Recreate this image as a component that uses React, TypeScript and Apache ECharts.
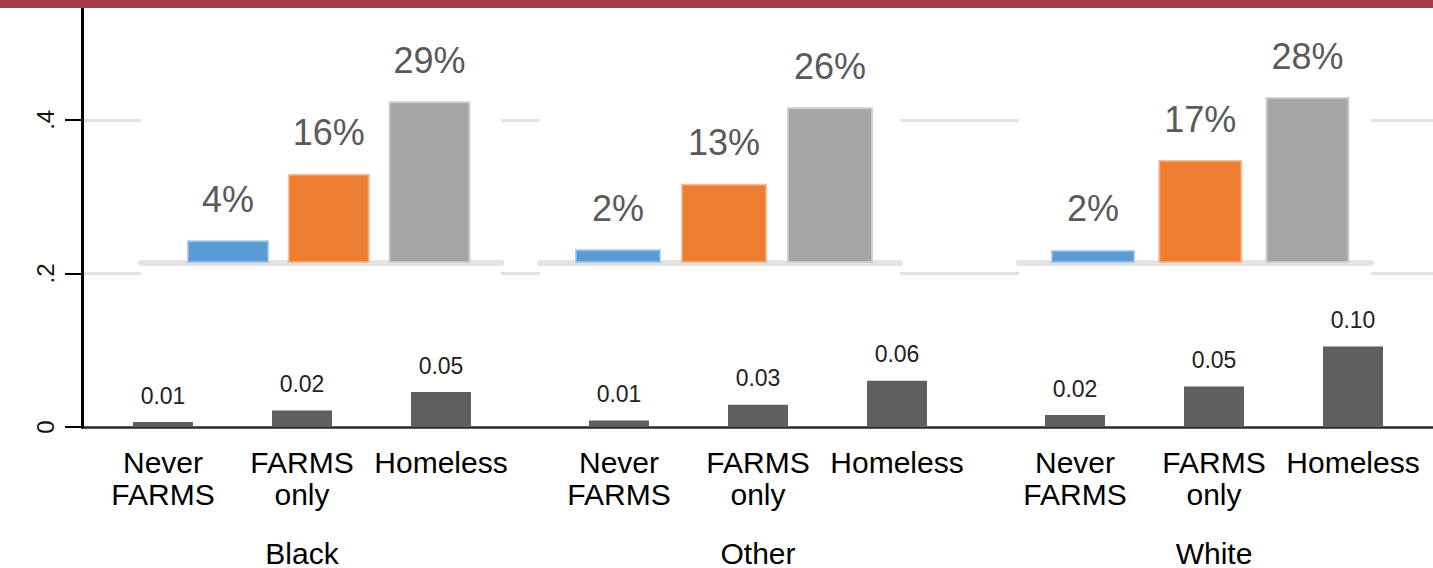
import { useEffect, useRef } from 'react';
import * as echarts from 'echarts';

// ---------- data ----------
const CATEGORIES = ['Never\nFARMS', 'FARMS\nonly', 'Homeless'];
const GROUPS = ['Black', 'Other', 'White'];
const BLACK_RATE = [0.0065, 0.0216, 0.0455];
const OTHER_RATE = [0.0086, 0.0289, 0.0603];
const WHITE_RATE = [0.0155, 0.0526, 0.1047];
const BLACK_PCT = [4.1, 16.0, 29.0];
const OTHER_PCT = [2.3, 13.2, 26.0];
const WHITE_PCT = [2.2, 17.3, 27.9];
const Y_TICKS = [0, 0.2, 0.4];

// ---------- layout ----------
const W = 1433;
const H = 568;
const PLOT_LEFT = 82;
const PLOT_TOP = 8;
const PLOT_BASE_Y = 430;
const PX_PER_UNIT = 773.5;
const Y_MAX = (PLOT_BASE_Y - PLOT_TOP) / PX_PER_UNIT;
const SLOT_PX = 139;
const GROUP_PX = 456;
const FIRST_CENTER_PX = 163;
const X_MIN = -(FIRST_CENTER_PX - PLOT_LEFT) / SLOT_PX;
const X_MAX = X_MIN + (W - PLOT_LEFT) / SLOT_PX;
const pos = (g: number, c: number) => (g * GROUP_PX) / SLOT_PX + c;

const INSETS = [
  { left: 141, right: 501, firstCenter: 228, step: 100.75, barWidth: 82, yMax: 40 },
  { left: 540, right: 900, firstCenter: 618, step: 106, barWidth: 86, yMax: 37.2 },
  { left: 1019, right: 1371, firstCenter: 1093, step: 107.25, barWidth: 84, yMax: 37.5 },
];
const INSET_TOP = 40;
const INSET_BASE_Y = 263;
const INSET_BOX_TOP = 10;
const INSET_BOX_BOTTOM = 283;
const INSET_COLORS = ['#5b9bd5', '#ed7d31', '#a5a5a5'];
const INSET_EDGES = ['rgba(155,194,230,0.8)', 'rgba(244,177,131,0.8)', 'rgba(205,205,205,0.9)'];
const FONT = "'Liberation Sans', Arial, sans-serif";

export default function App() {
  const ref = useRef<HTMLDivElement>(null);

  useEffect(() => {
    if (!ref.current) return;
    const chart = echarts.init(ref.current, null, { renderer: 'svg' });

    const rates = [BLACK_RATE, OTHER_RATE, WHITE_RATE];
    const pcts = [BLACK_PCT, OTHER_PCT, WHITE_PCT];

    const catPositions: number[] = [];
    const catLabels: string[] = [];
    const mainData: number[][] = [];
    GROUPS.forEach((_, g) => {
      CATEGORIES.forEach((lab, c) => {
        catPositions.push(pos(g, c));
        catLabels.push(lab);
        mainData.push([pos(g, c), rates[g][c]]);
      });
    });
    const groupPositions = GROUPS.map((_, g) => pos(g, 1));

    const nearest = (arr: number[], v: number) => {
      let best = 0;
      arr.forEach((p, i) => {
        if (Math.abs(p - v) < Math.abs(arr[best] - v)) best = i;
      });
      return best;
    };

    const grids: any[] = [
      { left: PLOT_LEFT, right: 0, top: PLOT_TOP, bottom: H - PLOT_BASE_Y },
      ...INSETS.map((ins) => ({
        left: ins.left,
        width: ins.right - ins.left,
        top: INSET_TOP,
        bottom: H - INSET_BASE_Y,
      })),
    ];

    const xAxes: any[] = [
      {
        type: 'value',
        gridIndex: 0,
        min: X_MIN,
        max: X_MAX,
        axisLine: { show: true, onZero: false, lineStyle: { color: '#2a2a2a', width: 2.5 } },
        axisTick: { show: false },
        splitLine: { show: false },
        axisLabel: {
          customValues: catPositions,
          formatter: (v: number) => catLabels[nearest(catPositions, v)],
          fontSize: 30,
          lineHeight: 32,
          color: '#000',
          fontFamily: FONT,
          margin: 19,
        },
      },
      {
        type: 'value',
        gridIndex: 0,
        position: 'bottom',
        min: X_MIN,
        max: X_MAX,
        axisLine: { show: false, onZero: false },
        axisTick: { show: false },
        splitLine: { show: false },
        axisLabel: {
          customValues: groupPositions,
          formatter: (v: number) => GROUPS[nearest(groupPositions, v)],
          fontSize: 30,
          lineHeight: 30,
          color: '#000',
          fontFamily: FONT,
          margin: 111,
        },
      },
      ...INSETS.map((ins, i) => {
        const mn = -(ins.firstCenter - ins.left) / ins.step;
        return {
          type: 'value',
          gridIndex: i + 1,
          min: mn,
          max: mn + (ins.right - ins.left) / ins.step,
          z: 11,
          axisLine: { show: true, onZero: false, lineStyle: { color: '#e4e4e4', width: 6 } },
          axisTick: { show: false },
          axisLabel: { show: false },
          splitLine: { show: false },
        };
      }),
    ];

    const yAxes: any[] = [
      {
        type: 'value',
        gridIndex: 0,
        min: 0,
        max: Y_MAX,
        interval: 0.2,
        z: 5,
        axisLine: { show: true, onZero: false, lineStyle: { color: '#000', width: 3 } },
        axisTick: {
          show: true,
          length: 17,
          customValues: Y_TICKS,
          lineStyle: { color: '#000', width: 2 },
        },
        splitLine: { show: false },
        axisLabel: {
          customValues: Y_TICKS,
          rotate: 90,
          fontSize: 24,
          color: '#111',
          fontFamily: FONT,
          margin: 25,
          formatter: (v: number) => (v === 0 ? '0' : String(Math.round(v * 10) / 10).replace(/^0/, '')),
        },
      },
      ...INSETS.map((ins, i) => ({
        type: 'value',
        gridIndex: i + 1,
        min: 0,
        max: ins.yMax,
        show: false,
        axisLine: { onZero: false },
        splitLine: { show: false },
      })),
    ];

    const series: any[] = [
      {
        type: 'bar',
        xAxisIndex: 0,
        yAxisIndex: 0,
        data: mainData,
        barWidth: 60,
        z: 2,
        itemStyle: { color: '#5f5f5f' },
        label: {
          show: true,
          position: 'top',
          distance: 15,
          fontSize: 23,
          color: '#222',
          fontFamily: FONT,
          formatter: (p: any) => p.value[1].toFixed(2),
        },
        markLine: {
          silent: true,
          z: 1,
          symbol: ['none', 'none'],
          label: { show: false },
          lineStyle: { color: '#e2e2e2', width: 3, type: 'solid' },
          data: Y_TICKS.filter((t) => t > 0).map((t) => ({ yAxis: t })),
        },
      },
      ...INSETS.map((ins, i) => ({
        type: 'bar',
        xAxisIndex: i + 2,
        yAxisIndex: i + 1,
        barWidth: ins.barWidth,
        z: 12,
        data: pcts[i].map((v, c) => ({
          value: [c, v],
          itemStyle: { color: INSET_COLORS[c], borderColor: INSET_EDGES[c], borderWidth: 2 },
        })),
        label: {
          show: true,
          position: 'top',
          distance: 23,
          fontSize: 36,
          color: '#5a5a5a',
          fontFamily: FONT,
          formatter: (p: any) => Math.round(p.value[1]) + '%',
        },
      })),
    ];

    const graphicEls: any[] = [
      ...INSETS.map((ins) => ({
        type: 'rect',
        z: 10,
        silent: true,
        shape: {
          x: ins.left,
          y: INSET_BOX_TOP,
          width: ins.right - ins.left,
          height: INSET_BOX_BOTTOM - INSET_BOX_TOP,
        },
        style: { fill: '#ffffff' },
      })),
      {
        type: 'rect',
        z: 30,
        silent: true,
        shape: { x: 0, y: 0, width: W, height: 8 },
        style: { fill: '#a73a46' },
      },
    ];

    chart.setOption({
      animation: false,
      backgroundColor: '#ffffff',
      textStyle: { fontFamily: FONT },
      grid: grids,
      xAxis: xAxes,
      yAxis: yAxes,
      series,
      graphic: { elements: graphicEls },
    });

    return () => chart.dispose();
  }, []);

  return (
    <div
      ref={ref}
      style={{ position: 'absolute', left: 0, top: 0, width: W, height: H }}
    />
  );
}
